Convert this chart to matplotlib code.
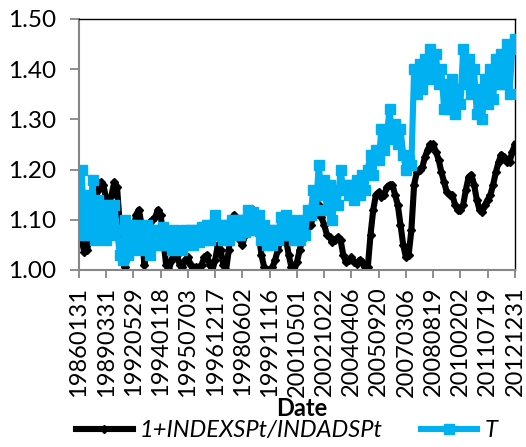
import matplotlib
matplotlib.use("Agg")
import matplotlib.pyplot as plt
from matplotlib.ticker import FormatStrFormatter

plt.rcParams['font.family'] = ['Lato', 'DejaVu Sans']

# Tick labels on the category (date) axis, one every 10 observations
date_labels = ["19860131", "19890331", "19920529", "19940118", "19950703",
               "19961217", "19980602", "19991116", "20010501", "20021022",
               "20040406", "20050920", "20070306", "20080819", "20100202",
               "20110719", "20121231"]

ratio_series = [
    1.075, 1.06, 1.035, 1.04, 1.065, 1.10, 1.135, 1.16, 1.175, 1.17,
    1.14, 1.135, 1.15, 1.175, 1.165, 1.09, 1.015, 1.005, 1.03, 1.05,
    1.08, 1.11, 1.12, 1.09, 1.01, 1.04, 1.095, 1.10, 1.105, 1.12,
    1.11, 1.06, 1.01, 1.00, 1.02, 1.035, 1.03, 1.01, 1.005, 1.02,
    1.025, 1.01, 1.00, 1.005, 1.005, 1.01, 1.025, 1.03, 1.01, 1.00,
    1.02, 1.05, 1.04, 1.01, 1.00, 1.04, 1.09, 1.11, 1.10, 1.06,
    1.05, 1.07, 1.09, 1.11, 1.12, 1.10, 1.07, 1.03, 1.005, 1.00,
    1.00, 1.005, 1.02, 1.04, 1.06, 1.07, 1.06, 1.03, 1.005, 1.00,
    1.015, 1.04, 1.06, 1.075, 1.085, 1.09, 1.105, 1.12, 1.13, 1.105,
    1.09, 1.07, 1.065, 1.055, 1.06, 1.065, 1.06, 1.03, 1.015, 1.02,
    1.025, 1.015, 1.012, 1.02, 1.015, 1.005, 1.005, 1.07, 1.12, 1.15,
    1.155, 1.145, 1.15, 1.165, 1.17, 1.17, 1.15, 1.13, 1.09, 1.05,
    1.025, 1.03, 1.08, 1.17, 1.195, 1.20, 1.205, 1.225, 1.24, 1.25,
    1.25, 1.235, 1.22, 1.195, 1.175, 1.155, 1.15, 1.15, 1.13, 1.12,
    1.12, 1.13, 1.16, 1.185, 1.19, 1.17, 1.14, 1.12, 1.115, 1.13,
    1.14, 1.15, 1.17, 1.195, 1.215, 1.23, 1.225, 1.215, 1.215, 1.235,
    1.25,
]

t_series = [
    1.09, 1.20, 1.07, 1.15, 1.08, 1.18, 1.06, 1.14, 1.07, 1.13,
    1.06, 1.13, 1.07, 1.13, 1.08, 1.03, 1.02, 1.10, 1.03, 1.09,
    1.04, 1.09, 1.05, 1.08, 1.04, 1.09, 1.03, 1.08, 1.05, 1.08,
    1.05, 1.085, 1.05, 1.07, 1.04, 1.08, 1.05, 1.075, 1.04, 1.08,
    1.05, 1.08, 1.05, 1.08, 1.055, 1.085, 1.06, 1.09, 1.06, 1.09,
    1.11, 1.07, 1.09, 1.06, 1.09, 1.06, 1.10, 1.07, 1.10, 1.07,
    1.10, 1.075, 1.12, 1.08, 1.115, 1.08, 1.11, 1.06, 1.09, 1.05,
    1.08, 1.05, 1.08, 1.06, 1.105, 1.07, 1.11, 1.07, 1.10, 1.06,
    1.09, 1.06, 1.10, 1.07, 1.12, 1.11, 1.16, 1.12, 1.21, 1.15,
    1.18, 1.12, 1.17, 1.10, 1.16, 1.13, 1.20, 1.16, 1.17, 1.15,
    1.17, 1.14, 1.18, 1.15, 1.19, 1.16, 1.20, 1.23, 1.19, 1.24,
    1.22, 1.28, 1.24, 1.27, 1.32, 1.26, 1.29, 1.25, 1.28, 1.23,
    1.20, 1.22, 1.21, 1.40, 1.35, 1.41, 1.36, 1.42, 1.38, 1.44,
    1.39, 1.43, 1.37, 1.40, 1.32, 1.37, 1.32, 1.38, 1.31, 1.36,
    1.33, 1.44, 1.37, 1.42, 1.35, 1.40, 1.31, 1.36, 1.30, 1.38,
    1.33, 1.40, 1.34, 1.42, 1.37, 1.43, 1.37, 1.45, 1.35, 1.44,
    1.46,
]

label_step = 10
idx = list(range(len(ratio_series)))

fig = plt.figure(figsize=(5.26, 4.47), dpi=100)
ax = fig.add_axes([0.150, 0.396, 0.829, 0.5615])

black_line, = ax.plot(idx, ratio_series, color="black", lw=4.4,
                      marker="D", markersize=3.8, zorder=2,
                      label="1+INDEXSPt/INDADSPt")
blue_line, = ax.plot(idx, t_series, color="#00B0F0", lw=4.4,
                     marker="s", markersize=6.5, zorder=3, label="T")

ax.set_xlim(0, len(idx) - 1)
ax.set_ylim(1.0, 1.5)
ax.set_yticks([1.0, 1.1, 1.2, 1.3, 1.4, 1.5])
ax.yaxis.set_major_formatter(FormatStrFormatter("%.2f"))
ax.set_xticks(list(range(0, len(idx), label_step)))
ax.set_xticklabels(date_labels, rotation=90)

gray = "#868686"
for side in ("left", "bottom"):
    ax.spines[side].set_color(gray)
    ax.spines[side].set_linewidth(1.5)
for side in ("top", "right"):
    ax.spines[side].set_color("black")
    ax.spines[side].set_linewidth(1.0)

ax.tick_params(axis="y", direction="out", length=6.5, width=1.3,
               color=gray, labelsize=17.5, pad=10)
ax.tick_params(axis="x", direction="out", length=6, width=1.3,
               color=gray, labelsize=17, pad=6)

ax.set_xlabel("Date", fontsize=17, fontweight="bold", labelpad=-3)
ax.xaxis.set_label_coords(0.51, -0.505)

fig.legend(handles=[black_line, blue_line], loc="lower center",
           bbox_to_anchor=(0.545, -0.035), ncol=2, frameon=False,
           prop={"style": "italic", "size": 17}, handlelength=2.4,
           handletextpad=0.3, columnspacing=1.6)

fig.savefig("out.png", dpi=100)
